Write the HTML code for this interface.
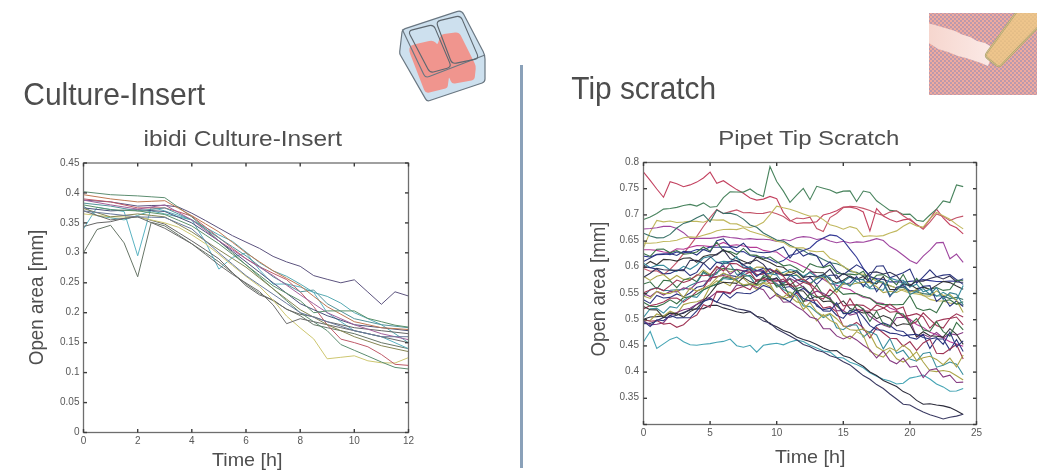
<!DOCTYPE html>
<html><head><meta charset="utf-8"><style>
html,body{margin:0;padding:0;background:#fff;}
body{width:1044px;height:474px;overflow:hidden;position:relative;}
svg{position:absolute;left:0;top:0;will-change:transform;}
text{font-family:"Liberation Sans",sans-serif;}
</style></head><body>
<svg width="1044" height="474" viewBox="0 0 1044 474">
<rect x="520" y="65" width="3" height="403" fill="#8aa1b9"/>
<g fill="#4d4d4d">
<text x="23.2" y="104.5" font-size="30.5" textLength="182" lengthAdjust="spacingAndGlyphs">Culture-Insert</text>
<text x="571.3" y="99" font-size="30.5" textLength="144.8" lengthAdjust="spacingAndGlyphs">Tip scratch</text>
</g>
<g fill="#4f4f4f">
<text x="143.5" y="146" font-size="22" textLength="198.5" lengthAdjust="spacingAndGlyphs">ibidi Culture-Insert</text>
<text x="718.3" y="144.6" font-size="21" textLength="181" lengthAdjust="spacingAndGlyphs">Pipet Tip Scratch</text>
<text x="212" y="465.9" font-size="19" textLength="70.5" lengthAdjust="spacingAndGlyphs">Time [h]</text>
<text x="775" y="462.6" font-size="19" textLength="70.5" lengthAdjust="spacingAndGlyphs">Time [h]</text>
<text transform="translate(42.5,365.2) rotate(-90)" x="0" y="0" font-size="19.5" textLength="135.5" lengthAdjust="spacingAndGlyphs">Open area [mm]</text>
<text transform="translate(604.7,356.5) rotate(-90)" x="0" y="0" font-size="19.5" textLength="135" lengthAdjust="spacingAndGlyphs">Open area [mm]</text>
</g>
<g fill="none" stroke-width="1" opacity="0.9">
<polyline points="83.5,200.1 97.0,201.0 110.6,201.9 124.1,204.0 137.7,206.1 151.2,205.5 164.8,205.3 178.3,207.0 191.8,213.2 205.4,220.5 218.9,228.1 232.5,235.7 246.0,242.1 259.5,248.4 273.1,256.4 286.6,261.9 300.2,266.3 313.7,275.6 327.2,279.3 340.8,282.8 354.3,279.8 367.9,292.1 381.4,304.3 395.0,291.8 408.5,296.0" stroke="#4a4070"/>
<polyline points="83.5,252.8 97.0,229.5 110.6,225.3 124.1,242.9 137.7,276.8 151.2,222.3 164.8,225.9 178.3,234.9 191.8,243.8 205.4,252.8 218.9,261.8 232.5,273.0 246.0,284.0 259.5,293.4 273.1,300.7 286.6,309.0 300.2,315.7 313.7,324.7 327.2,327.7 340.8,330.7 354.3,333.7 367.9,338.2 381.4,342.7 395.0,345.7 408.5,348.7" stroke="#566656"/>
<polyline points="83.5,228.9 97.0,207.3 110.6,209.4 124.1,211.5 137.7,255.8 151.2,207.3 164.8,210.9 178.3,215.4 191.8,219.9 205.4,241.9 218.9,269.1 232.5,257.4 246.0,252.8 259.5,269.8 273.1,284.1 286.6,284.0 300.2,287.0 313.7,292.4 327.2,312.7 340.8,321.7 354.3,330.7 367.9,333.7 381.4,336.7 395.0,342.7 408.5,348.7" stroke="#48aabb"/>
<polyline points="83.5,206.1 97.0,215.7 110.6,217.8 124.1,219.9 137.7,215.4 151.2,210.9 164.8,213.9 178.3,216.9 191.8,219.9 205.4,227.4 218.9,234.9 232.5,241.4 246.0,252.0 259.5,262.7 273.1,270.8 286.6,276.3 300.2,284.0 313.7,292.4 327.2,296.4 340.8,303.1 354.3,312.7 367.9,318.7 381.4,324.7 395.0,333.7 408.5,342.7" stroke="#44a0aa"/>
<polyline points="83.5,226.5 97.0,222.9 110.6,221.7 124.1,218.4 137.7,216.5 151.2,220.3 164.8,224.1 178.3,232.5 191.8,240.9 205.4,249.8 218.9,258.8 232.5,272.8 246.0,285.7 259.5,294.9 273.1,299.9 286.6,309.4 300.2,314.3 313.7,316.7 327.2,321.7 340.8,324.7 354.3,327.7 367.9,329.2 381.4,330.7 395.0,332.2 408.5,333.7" stroke="#555555"/>
<polyline points="83.5,213.9 97.0,215.4 110.6,216.9 124.1,216.9 137.7,216.9 151.2,219.9 164.8,222.9 178.3,227.2 191.8,234.8 205.4,243.7 218.9,254.4 232.5,265.5 246.0,276.4 259.5,286.4 273.1,300.1 286.6,316.1 300.2,327.9 313.7,338.9 327.2,358.8 340.8,357.3 354.3,355.8 367.9,360.8 381.4,362.8 395.0,363.0 408.5,357.6" stroke="#c8c060"/>
<polyline points="83.5,198.9 97.0,200.4 110.6,201.9 124.1,204.9 137.7,207.9 151.2,207.9 164.8,207.9 178.3,211.7 191.8,216.2 205.4,226.9 218.9,237.7 232.5,248.4 246.0,258.6 259.5,266.7 273.1,273.3 286.6,279.6 300.2,291.8 313.7,306.7 327.2,324.7 340.8,339.1 354.3,342.6 367.9,346.8 381.4,354.5 395.0,364.3 408.5,365.4" stroke="#b84858"/>
<polyline points="83.5,191.7 97.0,193.2 110.6,194.7 124.1,195.3 137.7,195.9 151.2,196.8 164.8,197.7 178.3,207.3 191.8,216.9 205.4,228.9 218.9,240.9 232.5,252.8 246.0,264.8 259.5,276.8 273.1,288.8 286.6,300.7 300.2,312.7 313.7,321.7 327.2,330.7 340.8,344.5 354.3,350.3 367.9,356.1 381.4,362.0 395.0,367.4 408.5,369.0" stroke="#4a8060"/>
<polyline points="83.5,207.9 97.0,209.4 110.6,210.9 124.1,210.3 137.7,209.7 151.2,210.6 164.8,211.5 178.3,217.2 191.8,222.9 205.4,231.9 218.9,240.9 232.5,251.3 246.0,261.8 259.5,272.3 273.1,282.8 286.6,293.3 300.2,303.7 313.7,309.7 327.2,315.7 340.8,320.2 354.3,324.7 367.9,326.2 381.4,327.7 395.0,329.2 408.5,330.7" stroke="#353d6a"/>
<polyline points="83.5,203.1 97.0,204.6 110.6,206.1 124.1,208.5 137.7,210.9 151.2,209.4 164.8,207.9 178.3,213.9 191.8,219.9 205.4,228.9 218.9,237.9 232.5,246.8 246.0,255.8 259.5,266.3 273.1,276.8 286.6,284.3 300.2,291.8 313.7,290.0 327.2,303.7 340.8,311.2 354.3,318.7 367.9,321.7 381.4,324.7 395.0,326.2 408.5,327.7" stroke="#408890"/>
<polyline points="83.5,194.7 97.0,196.8 110.6,198.9 124.1,200.4 137.7,201.9 151.2,201.3 164.8,200.7 178.3,208.2 191.8,215.7 205.4,223.8 218.9,231.9 232.5,242.4 246.0,252.8 259.5,261.8 273.1,270.8 286.6,278.3 300.2,285.8 313.7,296.3 327.2,306.7 340.8,314.2 354.3,321.7 367.9,324.7 381.4,327.7 395.0,328.6 408.5,329.5" stroke="#b86a40"/>
<polyline points="83.5,200.1 97.0,202.5 110.6,204.9 124.1,207.0 137.7,209.1 151.2,207.0 164.8,204.9 178.3,212.4 191.8,219.9 205.4,230.4 218.9,240.9 232.5,249.8 246.0,258.8 259.5,267.2 273.1,275.6 286.6,285.2 300.2,294.8 313.7,303.7 327.2,312.7 340.8,318.7 354.3,324.7 367.9,329.2 381.4,333.7 395.0,336.7 408.5,339.7" stroke="#984e90"/>
<polyline points="83.5,210.9 97.0,215.4 110.6,219.9 124.1,218.4 137.7,216.9 151.2,222.6 164.8,228.3 178.3,236.1 191.8,243.8 205.4,254.3 218.9,264.8 232.5,274.4 246.0,283.0 259.5,291.5 273.1,304.9 286.6,323.7 300.2,318.7 313.7,321.7 327.2,324.7 340.8,327.7 354.3,330.7 367.9,333.7 381.4,336.7 395.0,339.7 408.5,342.7" stroke="#5a5a5a"/>
<polyline points="83.5,208.5 97.0,212.7 110.6,216.9 124.1,215.4 137.7,213.9 151.2,215.4 164.8,216.9 178.3,224.4 191.8,231.9 205.4,240.9 218.9,249.8 232.5,258.5 246.0,267.2 259.5,278.0 273.1,288.8 286.6,299.2 300.2,309.7 313.7,317.2 327.2,324.7 340.8,330.7 354.3,336.7 367.9,341.2 381.4,345.7 395.0,348.7 408.5,351.6" stroke="#787840"/>
<polyline points="83.5,210.9 97.0,212.4 110.6,213.9 124.1,215.4 137.7,216.9 151.2,217.2 164.8,217.5 178.3,223.2 191.8,228.9 205.4,240.9 218.9,252.8 232.5,264.2 246.0,275.6 259.5,284.9 273.1,294.2 286.6,303.4 300.2,312.7 313.7,317.2 327.2,321.7 340.8,326.2 354.3,330.7 367.9,333.7 381.4,336.7 395.0,336.7 408.5,336.7" stroke="#5a6a90"/>
<polyline points="83.5,204.9 97.0,207.3 110.6,209.7 124.1,210.3 137.7,210.9 151.2,212.7 164.8,214.5 178.3,220.2 191.8,225.9 205.4,234.9 218.9,243.8 232.5,254.3 246.0,264.8 259.5,275.3 273.1,285.8 286.6,293.3 300.2,300.7 313.7,312.7 327.2,310.9 340.8,310.9 354.3,310.9 367.9,318.4 381.4,321.7 395.0,325.2 408.5,327.1" stroke="#4a845a"/>
</g>
<g fill="none" stroke-width="1.1" opacity="0.95">
<polyline points="643.5,172.1 650.2,180.4 656.8,189.0 663.5,197.3 670.1,181.7 676.8,183.7 683.5,186.7 690.1,184.9 696.8,182.1 703.4,178.0 710.1,172.2 716.8,183.3 723.4,180.7 730.1,185.3 736.7,189.6 743.4,193.3 750.1,197.9 756.7,200.1 763.4,199.1 770.0,196.4 776.7,198.7 783.4,212.6 790.0,220.4 796.7,223.5 803.3,222.9 810.0,222.9 816.7,221.7 823.3,215.0 830.0,213.2 836.6,210.8 843.3,207.1 850.0,207.1 856.6,208.5 863.3,212.0 869.9,231.0 876.6,208.7 883.3,216.0 889.9,219.6 896.6,222.0 903.2,219.9 909.9,218.9 916.6,224.7 923.2,228.4 929.9,219.1 936.5,209.2 943.2,217.9 949.9,224.7 956.5,227.8 963.2,233.8" stroke="#c03858"/>
<polyline points="643.5,219.6 650.2,217.0 656.8,213.5 663.5,209.1 670.1,208.5 676.8,207.4 683.5,205.5 690.1,204.4 696.8,206.1 703.4,202.9 710.1,207.3 716.8,206.5 723.4,197.6 730.1,191.8 736.7,192.0 743.4,192.1 750.1,189.0 756.7,193.7 763.4,196.4 770.0,166.6 776.7,181.5 783.4,191.1 790.0,202.3 796.7,195.1 803.3,188.4 810.0,199.7 816.7,186.3 823.3,188.2 830.0,190.0 836.6,193.1 843.3,191.1 850.0,190.9 856.6,201.5 863.3,191.0 869.9,192.5 876.6,200.8 883.3,205.6 889.9,210.4 896.6,211.0 903.2,214.4 909.9,214.1 916.6,220.2 923.2,221.3 929.9,215.0 936.5,209.1 943.2,200.9 949.9,202.5 956.5,185.0 963.2,186.6" stroke="#3f7d55"/>
<polyline points="643.5,268.4 650.2,271.2 656.8,270.7 663.5,274.6 670.1,269.4 676.8,262.3 683.5,253.6 690.1,245.3 696.8,236.4 703.4,226.5 710.1,217.6 716.8,209.5 723.4,213.7 730.1,211.6 736.7,209.9 743.4,212.8 750.1,212.6 756.7,213.5 763.4,213.4 770.0,211.7 776.7,213.8 783.4,216.5 790.0,221.2 796.7,218.0 803.3,218.7 810.0,217.1 816.7,228.5 823.3,231.5 830.0,217.6 836.6,213.5 843.3,207.6 850.0,206.4 856.6,206.8 863.3,208.4 869.9,210.4 876.6,213.6 883.3,215.3 889.9,212.1 896.6,210.8 903.2,215.8 909.9,220.1 916.6,224.6 923.2,229.3 929.9,222.2 936.5,214.0 943.2,216.4 949.9,220.6 956.5,217.7 963.2,216.1" stroke="#c04a60"/>
<polyline points="643.5,247.8 650.2,231.9 656.8,220.4 663.5,221.9 670.1,221.0 676.8,222.5 683.5,222.0 690.1,221.3 696.8,221.4 703.4,222.2 710.1,219.7 716.8,220.1 723.4,219.9 730.1,223.6 736.7,223.9 743.4,226.8 750.1,227.5 756.7,225.8 763.4,222.3 770.0,214.7 776.7,206.2 783.4,207.8 790.0,209.2 796.7,211.5 803.3,213.9 810.0,216.3 816.7,215.7 823.3,219.6 830.0,224.8 836.6,226.5 843.3,229.2 850.0,226.6 856.6,228.4 863.3,236.6 869.9,235.8 876.6,236.2 883.3,235.6 889.9,232.9 896.6,230.9 903.2,226.2 909.9,222.7 916.6,226.0 923.2,227.1 929.9,218.7 936.5,212.3 943.2,215.7 949.9,219.3 956.5,224.4 963.2,228.9" stroke="#bdb455"/>
<polyline points="643.5,229.0 650.2,228.5 656.8,227.7 663.5,226.4 670.1,226.3 676.8,228.6 683.5,232.7 690.1,238.4 696.8,238.2 703.4,238.4 710.1,238.4 716.8,237.6 723.4,236.4 730.1,237.5 736.7,238.1 743.4,239.3 750.1,238.6 756.7,239.4 763.4,239.2 770.0,239.8 776.7,241.5 783.4,239.5 790.0,240.7 796.7,237.8 803.3,236.6 810.0,237.3 816.7,239.5 823.3,238.4 830.0,241.0 836.6,242.7 843.3,241.2 850.0,243.0 856.6,241.9 863.3,242.2 869.9,240.6 876.6,238.6 883.3,240.5 889.9,246.6 896.6,250.2 903.2,255.2 909.9,260.5 916.6,263.6 923.2,256.1 929.9,250.2 936.5,242.9 943.2,242.4 949.9,258.8 956.5,254.1 963.2,262.4" stroke="#9a3c9a"/>
<polyline points="643.5,233.2 650.2,236.1 656.8,237.9 663.5,237.8 670.1,234.4 676.8,228.0 683.5,223.4 690.1,221.4 696.8,217.7 703.4,214.7 710.1,221.8 716.8,209.9 723.4,213.4 730.1,213.1 736.7,214.9 743.4,219.1 750.1,224.9 756.7,227.3 763.4,233.0 770.0,236.5 776.7,240.1 783.4,241.1 790.0,245.3 796.7,248.6 803.3,250.6 810.0,254.6 816.7,255.9 823.3,259.4 830.0,262.7 836.6,263.8 843.3,266.3 850.0,271.5 856.6,272.4 863.3,275.9 869.9,276.4 876.6,279.5 883.3,283.8 889.9,285.7 896.6,288.0 903.2,287.4 909.9,291.5 916.6,291.9 923.2,293.6 929.9,294.4 936.5,295.8 943.2,296.0 949.9,298.6 956.5,297.3 963.2,299.4" stroke="#2f6a60"/>
<polyline points="643.5,243.1 650.2,243.2 656.8,242.8 663.5,241.5 670.1,241.2 676.8,240.2 683.5,237.7 690.1,236.9 696.8,237.3 703.4,235.3 710.1,233.4 716.8,230.7 723.4,229.5 730.1,229.2 736.7,229.6 743.4,227.8 750.1,231.3 756.7,233.2 763.4,235.2 770.0,238.1 776.7,241.2 783.4,242.4 790.0,246.7 796.7,247.9 803.3,247.7 810.0,250.9 816.7,251.8 823.3,251.3 830.0,258.2 836.6,261.0 843.3,266.7 850.0,270.1 856.6,273.2 863.3,274.3 869.9,276.5 876.6,281.5 883.3,283.1 889.9,285.5 896.6,288.3 903.2,290.8 909.9,293.3 916.6,293.9 923.2,295.1 929.9,299.4 936.5,300.9 943.2,301.0 949.9,303.1 956.5,303.5 963.2,305.5" stroke="#bdb455"/>
<polyline points="643.5,249.8 650.2,249.7 656.8,250.4 663.5,252.0 670.1,252.6 676.8,248.8 683.5,249.3 690.1,247.3 696.8,245.6 703.4,245.7 710.1,246.6 716.8,245.2 723.4,242.4 730.1,245.5 736.7,244.7 743.4,246.0 750.1,247.4 756.7,247.3 763.4,250.4 770.0,251.5 776.7,252.0 783.4,256.9 790.0,260.8 796.7,263.1 803.3,266.5 810.0,270.0 816.7,276.3 823.3,279.3 830.0,283.6 836.6,285.3 843.3,288.3 850.0,289.5 856.6,293.9 863.3,297.5 869.9,298.1 876.6,302.5 883.3,303.6 889.9,307.9 896.6,310.5 903.2,315.6 909.9,319.3 916.6,324.4 923.2,327.4 929.9,332.3 936.5,334.6 943.2,338.0 949.9,341.8 956.5,344.1 963.2,346.3" stroke="#b03090"/>
<polyline points="643.5,256.1 650.2,257.0 656.8,254.4 663.5,253.7 670.1,254.6 676.8,251.9 683.5,252.9 690.1,251.9 696.8,249.5 703.4,249.8 710.1,246.9 716.8,247.3 723.4,246.9 730.1,247.4 736.7,251.7 743.4,251.5 750.1,255.6 756.7,257.3 763.4,256.7 770.0,259.5 776.7,262.9 783.4,260.6 790.0,255.3 796.7,253.7 803.3,250.6 810.0,248.0 816.7,241.8 823.3,238.0 830.0,234.9 836.6,235.9 843.3,240.3 850.0,249.2 856.6,257.2 863.3,268.4 869.9,276.7 876.6,278.6 883.3,279.4 889.9,281.9 896.6,281.9 903.2,282.3 909.9,281.4 916.6,280.8 923.2,279.6 929.9,280.6 936.5,281.5 943.2,281.6 949.9,281.0 956.5,281.4 963.2,278.7" stroke="#2a3090"/>
<polyline points="643.5,341.8 650.2,331.5 656.8,348.5 663.5,343.9 670.1,339.4 676.8,337.1 683.5,341.8 690.1,344.8 696.8,345.2 703.4,344.3 710.1,343.6 716.8,342.2 723.4,341.4 730.1,339.1 736.7,345.7 743.4,347.2 750.1,345.3 756.7,352.2 763.4,345.3 770.0,344.1 776.7,343.3 783.4,344.8 790.0,341.9 796.7,340.1 803.3,341.4 810.0,345.3 816.7,347.9 823.3,351.0 830.0,352.1 836.6,357.2 843.3,358.0 850.0,362.2 856.6,364.4 863.3,367.7 869.9,372.9 876.6,376.2 883.3,379.2 889.9,381.0 896.6,384.0 903.2,383.2 909.9,378.1 916.6,376.7 923.2,375.1 929.9,379.0 936.5,384.0 943.2,386.9 949.9,391.3 956.5,391.0 963.2,388.6" stroke="#3b9fb0"/>
<polyline points="643.5,319.2 650.2,317.0 656.8,316.6 663.5,316.0 670.1,313.0 676.8,314.7 683.5,313.2 690.1,309.4 696.8,309.0 703.4,308.6 710.1,305.4 716.8,305.2 723.4,307.9 730.1,309.7 736.7,311.7 743.4,313.0 750.1,311.6 756.7,316.2 763.4,318.0 770.0,324.0 776.7,326.7 783.4,330.5 790.0,332.7 796.7,337.0 803.3,339.4 810.0,341.6 816.7,344.6 823.3,348.1 830.0,350.8 836.6,350.6 843.3,355.8 850.0,357.7 856.6,362.4 863.3,366.3 869.9,372.0 876.6,375.5 883.3,380.5 889.9,383.4 896.6,386.5 903.2,391.6 909.9,394.6 916.6,400.4 923.2,404.2 929.9,403.7 936.5,405.0 943.2,405.9 949.9,407.6 956.5,410.7 963.2,414.4" stroke="#202030"/>
<polyline points="643.5,323.6 650.2,323.4 656.8,320.7 663.5,317.4 670.1,317.1 676.8,315.2 683.5,312.4 690.1,309.9 696.8,304.4 703.4,301.0 710.1,299.3 716.8,302.1 723.4,304.4 730.1,306.1 736.7,308.8 743.4,309.9 750.1,311.6 756.7,316.6 763.4,321.1 770.0,323.0 776.7,329.0 783.4,332.4 790.0,336.1 796.7,339.7 803.3,344.5 810.0,346.7 816.7,350.2 823.3,352.0 830.0,355.7 836.6,357.8 843.3,361.8 850.0,364.9 856.6,370.3 863.3,375.6 869.9,379.2 876.6,384.6 883.3,388.5 889.9,394.0 896.6,399.0 903.2,404.2 909.9,405.0 916.6,408.8 923.2,412.0 929.9,414.7 936.5,416.8 943.2,419.0 949.9,417.3 956.5,416.1 963.2,414.3" stroke="#30305a"/>
<polyline points="643.5,261.4 650.2,258.1 656.8,254.6 663.5,254.4 670.1,253.5 676.8,255.5 683.5,251.3 690.1,252.1 696.8,255.0 703.4,249.4 710.1,252.0 716.8,240.8 723.4,238.8 730.1,246.4 736.7,247.6 743.4,243.2 750.1,250.7 756.7,252.0 763.4,252.8 770.0,252.2 776.7,250.0 783.4,246.9 790.0,258.0 796.7,249.4 803.3,256.1 810.0,253.0 816.7,255.8 823.3,266.9 830.0,261.7 836.6,271.1 843.3,274.7 850.0,269.8 856.6,264.8 863.3,268.9 869.9,275.7 876.6,266.2 883.3,265.8 889.9,277.7 896.6,275.2 903.2,272.8 909.9,269.1 916.6,283.4 923.2,276.8 929.9,269.9 936.5,276.7 943.2,275.1 949.9,274.5 956.5,279.8 963.2,284.4" stroke="#202a78"/>
<polyline points="643.5,253.5 650.2,256.4 656.8,249.2 663.5,249.1 670.1,252.8 676.8,250.5 683.5,254.3 690.1,253.5 696.8,252.0 703.4,247.0 710.1,251.1 716.8,242.1 723.4,251.1 730.1,251.5 736.7,254.5 743.4,248.4 750.1,254.9 756.7,255.4 763.4,259.0 770.0,256.8 776.7,261.5 783.4,265.8 790.0,264.7 796.7,268.2 803.3,272.6 810.0,263.7 816.7,266.5 823.3,267.6 830.0,265.2 836.6,273.2 843.3,274.3 850.0,274.1 856.6,274.9 863.3,271.2 869.9,282.1 876.6,275.3 883.3,274.6 889.9,278.6 896.6,284.9 903.2,274.3 909.9,287.1 916.6,278.4 923.2,286.5 929.9,289.4 936.5,287.5 943.2,290.4 949.9,289.6 956.5,280.4 963.2,280.3" stroke="#2f6a3e"/>
<polyline points="643.5,266.1 650.2,261.5 656.8,264.8 663.5,259.4 670.1,259.7 676.8,261.1 683.5,258.3 690.1,257.9 696.8,262.3 703.4,256.5 710.1,254.7 716.8,254.9 723.4,250.0 730.1,252.9 736.7,258.2 743.4,261.3 750.1,263.9 756.7,257.0 763.4,259.7 770.0,262.4 776.7,266.3 783.4,267.3 790.0,272.7 796.7,270.4 803.3,277.4 810.0,271.7 816.7,272.5 823.3,272.7 830.0,279.7 836.6,282.9 843.3,280.3 850.0,275.8 856.6,279.4 863.3,276.5 869.9,282.4 876.6,283.8 883.3,276.4 889.9,289.4 896.6,289.6 903.2,284.1 909.9,284.3 916.6,288.6 923.2,287.2 929.9,289.4 936.5,285.4 943.2,281.4 949.9,282.6 956.5,286.1 963.2,289.3" stroke="#2a2a2a"/>
<polyline points="643.5,263.3 650.2,267.7 656.8,265.4 663.5,265.2 670.1,269.9 676.8,271.3 683.5,266.3 690.1,269.3 696.8,265.0 703.4,258.0 710.1,256.4 716.8,262.7 723.4,261.4 730.1,261.7 736.7,256.6 743.4,267.6 750.1,267.1 756.7,270.3 763.4,271.9 770.0,268.3 776.7,274.0 783.4,272.4 790.0,269.5 796.7,270.9 803.3,276.3 810.0,272.5 816.7,276.8 823.3,274.4 830.0,284.0 836.6,283.6 843.3,281.8 850.0,276.7 856.6,282.1 863.3,284.7 869.9,288.7 876.6,288.7 883.3,290.3 889.9,278.1 896.6,280.1 903.2,280.3 909.9,286.9 916.6,284.2 923.2,291.8 929.9,289.5 936.5,296.4 943.2,292.3 949.9,296.3 956.5,300.1 963.2,285.6" stroke="#2f8798"/>
<polyline points="643.5,266.6 650.2,267.6 656.8,269.1 663.5,274.0 670.1,273.4 676.8,270.2 683.5,269.6 690.1,275.6 696.8,272.4 703.4,263.2 710.1,269.6 716.8,262.1 723.4,263.9 730.1,261.7 736.7,260.5 743.4,265.0 750.1,268.6 756.7,270.8 763.4,268.4 770.0,269.6 776.7,273.7 783.4,274.3 790.0,274.7 796.7,279.7 803.3,282.1 810.0,277.3 816.7,284.3 823.3,277.7 830.0,275.2 836.6,275.1 843.3,284.1 850.0,283.0 856.6,276.5 863.3,286.7 869.9,277.9 876.6,291.8 883.3,282.7 889.9,296.7 896.6,287.2 903.2,285.7 909.9,290.9 916.6,290.3 923.2,286.2 929.9,285.7 936.5,301.4 943.2,296.2 949.9,306.2 956.5,301.0 963.2,306.5" stroke="#202a78"/>
<polyline points="643.5,276.2 650.2,280.4 656.8,276.3 663.5,274.5 670.1,280.0 676.8,275.5 683.5,279.4 690.1,279.4 696.8,275.8 703.4,269.9 710.1,274.5 716.8,267.3 723.4,268.9 730.1,271.9 736.7,269.8 743.4,271.2 750.1,271.3 756.7,267.1 763.4,267.4 770.0,277.3 776.7,268.9 783.4,275.0 790.0,271.7 796.7,274.8 803.3,280.0 810.0,285.2 816.7,277.0 823.3,277.2 830.0,283.8 836.6,292.6 843.3,283.4 850.0,284.7 856.6,283.3 863.3,282.1 869.9,282.5 876.6,286.7 883.3,292.6 889.9,291.2 896.6,292.5 903.2,289.1 909.9,292.2 916.6,289.6 923.2,295.8 929.9,296.1 936.5,290.9 943.2,295.5 949.9,294.5 956.5,300.3 963.2,312.6" stroke="#a8a040"/>
<polyline points="643.5,283.9 650.2,281.8 656.8,289.0 663.5,280.3 670.1,280.9 676.8,287.7 683.5,280.1 690.1,277.8 696.8,281.8 703.4,271.6 710.1,275.7 716.8,272.6 723.4,268.2 730.1,269.1 736.7,269.7 743.4,276.4 750.1,275.4 756.7,280.9 763.4,280.6 770.0,279.2 776.7,285.8 783.4,283.7 790.0,278.9 796.7,288.6 803.3,286.5 810.0,293.4 816.7,284.9 823.3,295.3 830.0,295.5 836.6,288.6 843.3,294.4 850.0,293.6 856.6,293.6 863.3,296.2 869.9,298.2 876.6,303.4 883.3,304.6 889.9,304.5 896.6,304.7 903.2,304.4 909.9,295.5 916.6,308.1 923.2,310.5 929.9,309.1 936.5,312.7 943.2,301.1 949.9,299.8 956.5,304.3 963.2,301.7" stroke="#2f6a3e"/>
<polyline points="643.5,277.3 650.2,273.2 656.8,268.4 663.5,269.8 670.1,270.1 676.8,270.4 683.5,270.8 690.1,260.2 696.8,260.4 703.4,263.3 710.1,257.6 716.8,254.1 723.4,249.7 730.1,258.8 736.7,260.7 743.4,264.4 750.1,261.9 756.7,260.0 763.4,264.4 770.0,272.7 776.7,270.7 783.4,275.4 790.0,275.3 796.7,271.8 803.3,277.3 810.0,276.2 816.7,277.0 823.3,275.0 830.0,269.1 836.6,278.6 843.3,273.5 850.0,277.1 856.6,279.2 863.3,279.6 869.9,272.5 876.6,271.9 883.3,274.0 889.9,272.3 896.6,275.7 903.2,283.8 909.9,285.8 916.6,281.0 923.2,281.1 929.9,278.4 936.5,276.6 943.2,278.9 949.9,276.0 956.5,282.0 963.2,282.2" stroke="#28284a"/>
<polyline points="643.5,296.6 650.2,289.5 656.8,287.5 663.5,290.6 670.1,290.3 676.8,289.8 683.5,289.7 690.1,285.4 696.8,282.5 703.4,272.8 710.1,276.7 716.8,273.7 723.4,262.6 730.1,263.9 736.7,274.5 743.4,273.3 750.1,266.7 756.7,275.2 763.4,273.6 770.0,273.6 776.7,275.0 783.4,283.5 790.0,275.7 796.7,275.3 803.3,281.1 810.0,283.4 816.7,279.0 823.3,276.0 830.0,277.5 836.6,289.2 843.3,281.8 850.0,286.2 856.6,279.0 863.3,279.6 869.9,287.6 876.6,281.4 883.3,282.0 889.9,295.1 896.6,290.7 903.2,282.0 909.9,294.5 916.6,291.5 923.2,288.6 929.9,294.4 936.5,287.5 943.2,299.3 949.9,292.6 956.5,294.3 963.2,305.0" stroke="#2a7888"/>
<polyline points="643.5,292.7 650.2,289.9 656.8,287.8 663.5,290.6 670.1,285.6 676.8,280.0 683.5,282.4 690.1,280.2 696.8,274.8 703.4,275.7 710.1,274.9 716.8,266.3 723.4,271.0 730.1,263.4 736.7,263.8 743.4,268.0 750.1,268.9 756.7,274.7 763.4,273.9 770.0,269.1 776.7,272.2 783.4,276.2 790.0,285.2 796.7,280.0 803.3,279.0 810.0,283.5 816.7,289.4 823.3,295.6 830.0,299.0 836.6,306.0 843.3,310.8 850.0,298.6 856.6,309.1 863.3,310.9 869.9,311.2 876.6,305.0 883.3,307.7 889.9,312.2 896.6,311.5 903.2,316.6 909.9,315.4 916.6,313.7 923.2,316.8 929.9,328.2 936.5,321.2 943.2,319.4 949.9,318.3 956.5,313.8 963.2,317.0" stroke="#9a2a4c"/>
<polyline points="643.5,293.5 650.2,296.6 656.8,291.4 663.5,295.0 670.1,291.4 676.8,291.9 683.5,287.9 690.1,289.4 696.8,283.0 703.4,281.0 710.1,280.9 716.8,269.6 723.4,265.4 730.1,274.3 736.7,269.3 743.4,270.9 750.1,272.6 756.7,271.0 763.4,270.6 770.0,278.4 776.7,280.4 783.4,281.6 790.0,278.3 796.7,282.0 803.3,287.1 810.0,294.5 816.7,291.2 823.3,293.2 830.0,297.5 836.6,310.7 843.3,310.6 850.0,315.1 856.6,313.5 863.3,308.9 869.9,316.3 876.6,320.7 883.3,325.1 889.9,327.4 896.6,317.8 903.2,317.3 909.9,320.0 916.6,337.0 923.2,334.3 929.9,337.4 936.5,332.4 943.2,338.0 949.9,333.6 956.5,335.0 963.2,332.4" stroke="#7e2e7a"/>
<polyline points="643.5,299.7 650.2,303.4 656.8,295.5 663.5,298.0 670.1,297.4 676.8,293.9 683.5,296.7 690.1,293.0 696.8,287.3 703.4,285.8 710.1,277.7 716.8,276.9 723.4,273.8 730.1,275.5 736.7,276.6 743.4,271.3 750.1,269.5 756.7,276.5 763.4,271.4 770.0,280.6 776.7,278.0 783.4,287.7 790.0,286.5 796.7,291.7 803.3,288.4 810.0,293.4 816.7,306.0 823.3,309.7 830.0,308.1 836.6,315.2 843.3,318.4 850.0,310.2 856.6,312.9 863.3,329.8 869.9,332.5 876.6,325.5 883.3,322.9 889.9,325.5 896.6,330.5 903.2,331.4 909.9,337.5 916.6,339.1 923.2,334.4 929.9,348.4 936.5,339.0 943.2,339.0 949.9,350.1 956.5,339.5 963.2,351.6" stroke="#202a78"/>
<polyline points="643.5,308.9 650.2,305.6 656.8,304.3 663.5,301.9 670.1,298.3 676.8,298.0 683.5,302.0 690.1,297.6 696.8,291.3 703.4,288.1 710.1,278.1 716.8,276.6 723.4,275.5 730.1,277.3 736.7,279.2 743.4,275.3 750.1,271.9 756.7,281.4 763.4,278.4 770.0,283.2 776.7,283.4 783.4,291.4 790.0,297.5 796.7,292.9 803.3,301.4 810.0,300.2 816.7,300.0 823.3,308.1 830.0,306.7 836.6,311.8 843.3,326.2 850.0,326.2 856.6,322.4 863.3,327.9 869.9,338.0 876.6,327.6 883.3,333.0 889.9,338.2 896.6,338.6 903.2,346.2 909.9,341.6 916.6,350.4 923.2,343.0 929.9,339.2 936.5,353.3 943.2,353.6 949.9,349.0 956.5,344.6 963.2,359.0" stroke="#9a2a4c"/>
<polyline points="643.5,317.3 650.2,308.7 656.8,308.3 663.5,313.1 670.1,306.7 676.8,308.0 683.5,300.3 690.1,296.1 696.8,297.3 703.4,289.9 710.1,286.6 716.8,284.5 723.4,278.5 730.1,279.4 736.7,279.0 743.4,273.8 750.1,276.8 756.7,285.5 763.4,282.2 770.0,278.0 776.7,284.1 783.4,289.5 790.0,292.4 796.7,295.4 803.3,305.9 810.0,306.6 816.7,312.3 823.3,317.5 830.0,314.3 836.6,327.8 843.3,329.7 850.0,324.8 856.6,325.0 863.3,337.2 869.9,331.6 876.6,334.9 883.3,348.9 889.9,338.6 896.6,353.2 903.2,350.3 909.9,359.1 916.6,361.2 923.2,353.5 929.9,352.3 936.5,367.2 943.2,365.3 949.9,362.0 956.5,364.2 963.2,374.7" stroke="#2f8798"/>
<polyline points="643.5,320.8 650.2,320.5 656.8,314.0 663.5,316.3 670.1,311.2 676.8,314.1 683.5,304.6 690.1,302.7 696.8,301.7 703.4,299.3 710.1,286.4 716.8,280.9 723.4,282.2 730.1,285.7 736.7,276.7 743.4,278.4 750.1,284.3 756.7,289.5 763.4,282.5 770.0,283.7 776.7,296.0 783.4,299.1 790.0,296.5 796.7,301.9 803.3,303.5 810.0,311.5 816.7,320.9 823.3,314.6 830.0,320.4 836.6,323.5 843.3,335.3 850.0,338.8 856.6,331.6 863.3,335.3 869.9,351.4 876.6,354.8 883.3,357.1 889.9,350.2 896.6,358.8 903.2,362.0 909.9,357.8 916.6,351.8 923.2,362.0 929.9,370.8 936.5,371.6 943.2,370.5 949.9,371.7 956.5,375.8 963.2,380.0" stroke="#a8a040"/>
<polyline points="643.5,320.6 650.2,324.9 656.8,324.2 663.5,322.7 670.1,315.2 676.8,312.6 683.5,309.7 690.1,308.3 696.8,304.3 703.4,299.4 710.1,297.2 716.8,292.1 723.4,292.2 730.1,293.8 736.7,284.9 743.4,286.1 750.1,284.5 756.7,287.5 763.4,289.8 770.0,299.0 776.7,294.0 783.4,302.3 790.0,301.7 796.7,306.8 803.3,310.6 810.0,317.0 816.7,319.0 823.3,328.6 830.0,328.8 836.6,335.9 843.3,339.0 850.0,336.1 856.6,339.9 863.3,345.2 869.9,349.6 876.6,358.0 883.3,350.9 889.9,360.5 896.6,363.8 903.2,358.1 909.9,367.2 916.6,366.0 923.2,377.6 929.9,369.9 936.5,368.7 943.2,377.1 949.9,375.2 956.5,382.5 963.2,382.1" stroke="#7e2e7a"/>
<polyline points="643.5,306.5 650.2,309.7 656.8,309.9 663.5,317.6 670.1,313.1 676.8,313.5 683.5,317.3 690.1,311.6 696.8,308.3 703.4,301.0 710.1,293.5 716.8,284.8 723.4,282.2 730.1,282.7 736.7,283.4 743.4,277.4 750.1,281.6 756.7,284.0 763.4,277.1 770.0,279.7 776.7,278.0 783.4,285.1 790.0,284.1 796.7,290.5 803.3,291.0 810.0,298.9 816.7,295.8 823.3,301.6 830.0,301.0 836.6,305.2 843.3,300.9 850.0,308.5 856.6,310.7 863.3,313.0 869.9,312.4 876.6,318.7 883.3,315.5 889.9,318.2 896.6,325.9 903.2,323.7 909.9,324.4 916.6,336.7 923.2,331.7 929.9,335.7 936.5,336.2 943.2,337.1 949.9,328.7 956.5,334.3 963.2,344.4" stroke="#2a2a2a"/>
<polyline points="643.5,319.3 650.2,321.3 656.8,320.6 663.5,324.1 670.1,323.2 676.8,327.3 683.5,324.7 690.1,318.6 696.8,315.1 703.4,304.7 710.1,307.2 716.8,291.4 723.4,291.6 730.1,292.9 736.7,288.7 743.4,286.5 750.1,289.7 756.7,279.7 763.4,278.7 770.0,280.6 776.7,281.3 783.4,279.1 790.0,285.9 796.7,286.3 803.3,282.3 810.0,284.7 816.7,296.4 823.3,299.0 830.0,289.4 836.6,295.2 843.3,305.9 850.0,304.9 856.6,304.8 863.3,305.4 869.9,309.5 876.6,310.5 883.3,308.3 889.9,304.1 896.6,309.3 903.2,307.0 909.9,324.6 916.6,321.7 923.2,312.8 929.9,319.4 936.5,325.4 943.2,328.0 949.9,318.5 956.5,317.0 963.2,324.8" stroke="#9a2a4c"/>
<polyline points="643.5,302.2 650.2,306.3 656.8,306.6 663.5,303.9 670.1,299.8 676.8,303.7 683.5,297.6 690.1,296.8 696.8,294.3 703.4,289.8 710.1,286.7 716.8,283.7 723.4,277.0 730.1,278.3 736.7,280.2 743.4,286.2 750.1,283.9 756.7,284.9 763.4,275.7 770.0,277.3 776.7,287.2 783.4,285.0 790.0,296.6 796.7,288.8 803.3,302.1 810.0,293.4 816.7,297.6 823.3,296.0 830.0,299.3 836.6,305.5 843.3,312.8 850.0,313.0 856.6,304.6 863.3,309.2 869.9,321.5 876.6,311.0 883.3,323.9 889.9,326.5 896.6,313.0 903.2,314.0 909.9,324.7 916.6,318.5 923.2,329.9 929.9,331.5 936.5,321.6 943.2,331.6 949.9,336.1 956.5,322.4 963.2,329.9" stroke="#2f6a3e"/>
<polyline points="643.5,321.4 650.2,326.4 656.8,319.8 663.5,320.7 670.1,315.3 676.8,317.9 683.5,317.7 690.1,317.8 696.8,310.8 703.4,301.8 710.1,297.9 716.8,302.3 723.4,292.7 730.1,298.1 736.7,292.5 743.4,293.3 750.1,293.8 756.7,290.4 763.4,285.4 770.0,287.8 776.7,293.8 783.4,298.3 790.0,301.7 796.7,291.3 803.3,298.5 810.0,301.0 816.7,304.3 823.3,310.9 830.0,311.3 836.6,302.7 843.3,313.6 850.0,313.5 856.6,309.5 863.3,316.9 869.9,325.6 876.6,329.8 883.3,330.3 889.9,333.1 896.6,333.8 903.2,335.9 909.9,334.9 916.6,334.2 923.2,337.5 929.9,339.0 936.5,337.7 943.2,344.3 949.9,332.1 956.5,346.9 963.2,340.8" stroke="#202a78"/>
<polyline points="643.5,296.0 650.2,298.4 656.8,291.3 663.5,293.6 670.1,293.5 676.8,289.8 683.5,297.5 690.1,288.0 696.8,291.1 703.4,288.2 710.1,284.9 716.8,277.8 723.4,272.9 730.1,276.3 736.7,281.6 743.4,284.7 750.1,283.8 756.7,285.6 763.4,283.0 770.0,286.4 776.7,294.9 783.4,297.3 790.0,292.0 796.7,297.8 803.3,309.5 810.0,302.4 816.7,311.7 823.3,316.1 830.0,313.5 836.6,318.7 843.3,325.9 850.0,329.8 856.6,330.4 863.3,328.9 869.9,333.9 876.6,346.8 883.3,350.9 889.9,347.8 896.6,351.2 903.2,345.1 909.9,350.2 916.6,360.5 923.2,357.8 929.9,356.3 936.5,359.4 943.2,364.7 949.9,358.1 956.5,367.0 963.2,354.9" stroke="#a8a040"/>
</g>
<g stroke="#6e6e6e" stroke-width="1.3" fill="none">
<rect x="83.5" y="163" width="325" height="269.5"/>
<rect x="643.5" y="162.5" width="333" height="262"/>
</g>
<g stroke="#3c3c3c" stroke-width="1.4">
<line x1="83.5" y1="432.5" x2="87.0" y2="432.5"/>
<line x1="408.5" y1="432.5" x2="405.0" y2="432.5"/>
<line x1="83.5" y1="402.6" x2="87.0" y2="402.6"/>
<line x1="408.5" y1="402.6" x2="405.0" y2="402.6"/>
<line x1="83.5" y1="372.6" x2="87.0" y2="372.6"/>
<line x1="408.5" y1="372.6" x2="405.0" y2="372.6"/>
<line x1="83.5" y1="342.7" x2="87.0" y2="342.7"/>
<line x1="408.5" y1="342.7" x2="405.0" y2="342.7"/>
<line x1="83.5" y1="312.7" x2="87.0" y2="312.7"/>
<line x1="408.5" y1="312.7" x2="405.0" y2="312.7"/>
<line x1="83.5" y1="282.8" x2="87.0" y2="282.8"/>
<line x1="408.5" y1="282.8" x2="405.0" y2="282.8"/>
<line x1="83.5" y1="252.8" x2="87.0" y2="252.8"/>
<line x1="408.5" y1="252.8" x2="405.0" y2="252.8"/>
<line x1="83.5" y1="222.9" x2="87.0" y2="222.9"/>
<line x1="408.5" y1="222.9" x2="405.0" y2="222.9"/>
<line x1="83.5" y1="192.9" x2="87.0" y2="192.9"/>
<line x1="408.5" y1="192.9" x2="405.0" y2="192.9"/>
<line x1="83.5" y1="163.0" x2="87.0" y2="163.0"/>
<line x1="408.5" y1="163.0" x2="405.0" y2="163.0"/>
<line x1="83.5" y1="432.5" x2="83.5" y2="429.0"/>
<line x1="83.5" y1="163.0" x2="83.5" y2="166.5"/>
<line x1="137.7" y1="432.5" x2="137.7" y2="429.0"/>
<line x1="137.7" y1="163.0" x2="137.7" y2="166.5"/>
<line x1="191.8" y1="432.5" x2="191.8" y2="429.0"/>
<line x1="191.8" y1="163.0" x2="191.8" y2="166.5"/>
<line x1="246.0" y1="432.5" x2="246.0" y2="429.0"/>
<line x1="246.0" y1="163.0" x2="246.0" y2="166.5"/>
<line x1="300.2" y1="432.5" x2="300.2" y2="429.0"/>
<line x1="300.2" y1="163.0" x2="300.2" y2="166.5"/>
<line x1="354.3" y1="432.5" x2="354.3" y2="429.0"/>
<line x1="354.3" y1="163.0" x2="354.3" y2="166.5"/>
<line x1="408.5" y1="432.5" x2="408.5" y2="429.0"/>
<line x1="408.5" y1="163.0" x2="408.5" y2="166.5"/>
<line x1="643.5" y1="424.5" x2="647.0" y2="424.5"/>
<line x1="976.5" y1="424.5" x2="973.0" y2="424.5"/>
<line x1="643.5" y1="398.3" x2="647.0" y2="398.3"/>
<line x1="976.5" y1="398.3" x2="973.0" y2="398.3"/>
<line x1="643.5" y1="372.1" x2="647.0" y2="372.1"/>
<line x1="976.5" y1="372.1" x2="973.0" y2="372.1"/>
<line x1="643.5" y1="345.9" x2="647.0" y2="345.9"/>
<line x1="976.5" y1="345.9" x2="973.0" y2="345.9"/>
<line x1="643.5" y1="319.7" x2="647.0" y2="319.7"/>
<line x1="976.5" y1="319.7" x2="973.0" y2="319.7"/>
<line x1="643.5" y1="293.5" x2="647.0" y2="293.5"/>
<line x1="976.5" y1="293.5" x2="973.0" y2="293.5"/>
<line x1="643.5" y1="267.3" x2="647.0" y2="267.3"/>
<line x1="976.5" y1="267.3" x2="973.0" y2="267.3"/>
<line x1="643.5" y1="241.1" x2="647.0" y2="241.1"/>
<line x1="976.5" y1="241.1" x2="973.0" y2="241.1"/>
<line x1="643.5" y1="214.9" x2="647.0" y2="214.9"/>
<line x1="976.5" y1="214.9" x2="973.0" y2="214.9"/>
<line x1="643.5" y1="188.7" x2="647.0" y2="188.7"/>
<line x1="976.5" y1="188.7" x2="973.0" y2="188.7"/>
<line x1="643.5" y1="162.5" x2="647.0" y2="162.5"/>
<line x1="976.5" y1="162.5" x2="973.0" y2="162.5"/>
<line x1="643.5" y1="424.5" x2="643.5" y2="421.0"/>
<line x1="643.5" y1="162.5" x2="643.5" y2="166.0"/>
<line x1="710.1" y1="424.5" x2="710.1" y2="421.0"/>
<line x1="710.1" y1="162.5" x2="710.1" y2="166.0"/>
<line x1="776.7" y1="424.5" x2="776.7" y2="421.0"/>
<line x1="776.7" y1="162.5" x2="776.7" y2="166.0"/>
<line x1="843.3" y1="424.5" x2="843.3" y2="421.0"/>
<line x1="843.3" y1="162.5" x2="843.3" y2="166.0"/>
<line x1="909.9" y1="424.5" x2="909.9" y2="421.0"/>
<line x1="909.9" y1="162.5" x2="909.9" y2="166.0"/>
<line x1="976.5" y1="424.5" x2="976.5" y2="421.0"/>
<line x1="976.5" y1="162.5" x2="976.5" y2="166.0"/>
</g>
<g fill="#585858" font-size="10">
<text x="79.5" y="435.1" text-anchor="end">0</text>
<text x="79.5" y="405.2" text-anchor="end">0.05</text>
<text x="79.5" y="375.2" text-anchor="end">0.1</text>
<text x="79.5" y="345.3" text-anchor="end">0.15</text>
<text x="79.5" y="315.3" text-anchor="end">0.2</text>
<text x="79.5" y="285.4" text-anchor="end">0.25</text>
<text x="79.5" y="255.4" text-anchor="end">0.3</text>
<text x="79.5" y="225.5" text-anchor="end">0.35</text>
<text x="79.5" y="195.5" text-anchor="end">0.4</text>
<text x="79.5" y="165.6" text-anchor="end">0.45</text>
<text x="83.5" y="444" text-anchor="middle">0</text>
<text x="137.7" y="444" text-anchor="middle">2</text>
<text x="191.8" y="444" text-anchor="middle">4</text>
<text x="246.0" y="444" text-anchor="middle">6</text>
<text x="300.2" y="444" text-anchor="middle">8</text>
<text x="354.3" y="444" text-anchor="middle">10</text>
<text x="408.5" y="444" text-anchor="middle">12</text>
<text x="639" y="400.3" text-anchor="end">0.35</text>
<text x="639" y="374.1" text-anchor="end">0.4</text>
<text x="639" y="347.9" text-anchor="end">0.45</text>
<text x="639" y="321.7" text-anchor="end">0.5</text>
<text x="639" y="295.5" text-anchor="end">0.55</text>
<text x="639" y="269.3" text-anchor="end">0.6</text>
<text x="639" y="243.1" text-anchor="end">0.65</text>
<text x="639" y="216.9" text-anchor="end">0.7</text>
<text x="639" y="190.7" text-anchor="end">0.75</text>
<text x="639" y="164.5" text-anchor="end">0.8</text>
<text x="643.5" y="436" text-anchor="middle">0</text>
<text x="710.1" y="436" text-anchor="middle">5</text>
<text x="776.7" y="436" text-anchor="middle">10</text>
<text x="843.3" y="436" text-anchor="middle">15</text>
<text x="909.9" y="436" text-anchor="middle">20</text>
<text x="976.5" y="436" text-anchor="middle">25</text>
</g>

<g stroke-linejoin="round">
  <path d="M401.95,32.48 Q402.30,29.50 405.15,28.56 L456.75,11.56 Q461.50,10.00 463.81,14.43 L483.15,51.45 Q485.00,55.00 485.00,59.00 L485.00,79.00 Q485.00,82.00 482.16,82.96 L429.84,100.54 Q427.00,101.50 425.51,98.90 L400.49,55.24 Q399.50,53.50 399.73,51.51 Z" fill="#cde0ee" stroke="#6a7782" stroke-width="1.2"/>
  <path d="M409.50,48.25 Q410.00,45.50 414.86,44.34 L429.11,40.93 Q433.00,40.00 435.25,42.25 L436.44,43.44 Q437.50,44.50 438.00,43.08 L440.01,37.33 Q441.00,34.50 443.97,34.09 L455.04,32.55 Q459.00,32.00 460.79,35.58 L474.66,63.32 Q476.00,66.00 475.68,68.98 L474.82,77.02 Q474.50,80.00 471.55,80.53 L454.95,83.47 Q452.00,84.00 450.82,81.24 L449.59,78.38 Q449.00,77.00 448.80,78.49 L447.77,86.02 Q447.50,88.00 445.56,88.49 L429.38,92.53 Q425.50,93.50 424.05,89.77 L410.09,53.80 Q409.00,51.00 409.50,48.25 Z" fill="#f0958e"/>
  <path d="M402.30,29.50 L423.77,74.39 Q425.50,78.00 429.23,76.56 L485.00,55.00" fill="none" stroke="#6a7782" stroke-width="1.15"/>
  <path d="M410.09,34.99 Q408.00,31.00 412.36,29.89 L429.14,25.61 Q433.50,24.50 435.25,28.64 L449.75,62.86 Q451.50,67.00 447.17,68.21 L434.33,71.79 Q430.00,73.00 427.91,69.01 Z" fill="none" stroke="#5e6870" stroke-width="1.15"/>
  <path d="M437.59,25.71 Q436.00,21.50 440.37,20.43 L456.13,16.57 Q460.50,15.50 462.28,19.63 L477.22,54.37 Q479.00,58.50 474.59,59.40 L456.41,63.10 Q452.00,64.00 450.41,59.79 Z" fill="none" stroke="#5e6870" stroke-width="1.15"/>
</g>


<defs>
 <pattern id="dots" width="4" height="4" patternUnits="userSpaceOnUse">
   <rect width="4" height="4" fill="#efaa9e"/>
   <circle cx="1" cy="1" r="0.72" fill="#6e80c4"/>
   <circle cx="3" cy="3" r="0.72" fill="#6e80c4"/>
 </pattern>
 <pattern id="dots2" width="4" height="4" patternUnits="userSpaceOnUse">
   <rect width="4" height="4" fill="#eec58c"/>
   <circle cx="1" cy="1" r="0.55" fill="#c8a878"/>
   <circle cx="3" cy="3" r="0.55" fill="#c8a878"/>
 </pattern>
 <clipPath id="tipclip"><rect x="929" y="13" width="108" height="82"/></clipPath>
 <linearGradient id="scr" x1="0" x2="1" y1="0" y2="0"><stop offset="0" stop-color="#f6d6ce"/><stop offset="1" stop-color="#fbeae7"/></linearGradient>
</defs>
<g clip-path="url(#tipclip)">
 <rect x="929" y="13" width="108" height="82" fill="url(#dots)"/>
 <path d="M929,23.5 L935,25 L945,28 L955,31 L962,34.5 L970,37 L977,41 L985,43 L990,46 L993,52 L988,66 L981,63 L975,61 L966,58 L958,56 L948,52 L938,49 L929,43 Z" fill="url(#scr)"/>
 <path d="M1021.50,5.00 Q1021.50,5.00 1021.50,5.00 L1050.00,5.00 Q1050.00,5.00 1050.00,5.00 L1045.00,20.00 Q1045.00,20.00 1045.00,20.00 L1001.78,64.63 Q999.00,67.50 995.87,65.01 L987.63,58.49 Q984.50,56.00 986.85,52.76 Z" fill="url(#dots2)" stroke="#a8a070" stroke-width="1.9"/>
 <path d="M1021.50,5.00 Q1021.50,5.00 1021.50,5.00 L1050.00,5.00 Q1050.00,5.00 1050.00,5.00 L1045.00,20.00 Q1045.00,20.00 1045.00,20.00 L1001.78,64.63 Q999.00,67.50 995.87,65.01 L987.63,58.49 Q984.50,56.00 986.85,52.76 Z" fill="none" stroke="#e2c88e" stroke-width="0.8"/>
</g>

</svg>
</body></html>
